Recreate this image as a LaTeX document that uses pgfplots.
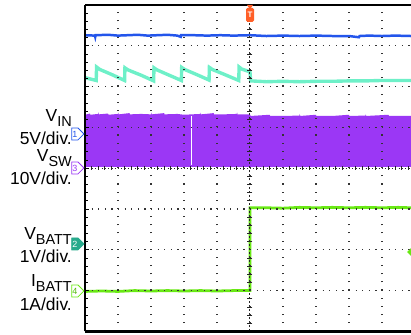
\documentclass[border=0pt]{standalone}
\usepackage{pgfplots}
\pgfplotsset{compat=1.18}
\usepackage{fontspec}
\setmainfont{Liberation Sans}
\usetikzlibrary{shapes.symbols}
\definecolor{cblue}{RGB}{35,85,235}
\definecolor{cteal}{RGB}{110,240,200}
\definecolor{cteald}{RGB}{40,170,140}
\definecolor{cpurple}{RGB}{155,55,245}
\definecolor{cgreen}{RGB}{105,232,20}
\definecolor{corange}{RGB}{255,95,40}
\newcommand\sub[1]{\raisebox{-5bp}{\fontsize{14.5}{14}\selectfont #1}}
\begin{document}
\begin{tikzpicture}
\begin{axis}[at={(0,0)}, anchor=south west,
  width=326bp, height=326.4bp, scale only axis,
  xmin=0, xmax=9.88, ymin=0, ymax=8,
  axis x line*=box, axis y line*=left,
  axis line style={line width=2.4pt, black},
  xtick={0,...,9}, ytick={0,...,8},
  xticklabels={}, yticklabels={},
  minor y tick num=4, tick align=inside,
  xtick style={draw=none},
  ytick style={line width=0.8pt, black},
  major tick length=4bp, minor tick length=2.5bp,
  grid=major,
  x grid style={black!80, line width=1.1pt, dash pattern=on 1.1bp off 7.06bp},
  y grid style={black!80, line width=1.1pt, dash pattern=on 1.1bp off 5.5bp},
  axis on top, clip=true]
% VSW band
\addplot[fill=cpurple, draw=none] coordinates {
 (0,4.03) (0,5.31) (0.15,5.34) (0.16,5.31) (0.4,5.33) (0.41,5.37) (0.42,5.32) (0.7,5.34) (0.71,5.31)
 (1.0,5.33) (1.01,5.36) (1.02,5.32) (1.35,5.35) (1.36,5.32)
 (1.7,5.33) (2.0,5.32) (2.01,5.37) (2.02,5.32) (2.4,5.35) (2.41,5.32) (2.8,5.33) (3.0,5.31) (3.5,5.33) (3.51,5.36)
 (3.52,5.32) (3.9,5.35) (3.91,5.32) (4.2,5.32) (4.6,5.33) (4.61,5.37) (4.62,5.32) (5.0,5.32) (5.02,5.28) (5.6,5.31) (5.61,5.28) (6,5.28)
 (6.5,5.29) (6.51,5.33) (6.52,5.28) (7.0,5.31) (7.01,5.28) (7.5,5.28) (8.0,5.31) (8.01,5.28) (8.5,5.29) (8.51,5.32) (8.52,5.28)
 (9.2,5.31) (9.21,5.28) (9.88,5.28)
 (9.88,4.03)} -- cycle;
\addplot[white, line width=1pt] coordinates {(3.23,4.08) (3.23,5.28)};
% VIN
\addplot[cblue, line width=2.5pt] coordinates {
 (0,7.26) (0.3,7.25) (0.31,7.22) (0.32,7.26) (0.7,7.27) (1.0,7.25) (1.3,7.26) (1.6,7.27)
 (1.9,7.25) (2.2,7.26) (2.5,7.27) (2.8,7.25) (2.9,7.22) (2.91,7.26) (3.3,7.26) (3.7,7.25)
 (4.1,7.26) (4.5,7.25) (5.0,7.26) (5.5,7.24) (6.0,7.25) (6.5,7.24) (7.0,7.25) (7.5,7.24)
 (8.0,7.24) (8.3,7.21) (8.32,7.24) (8.6,7.25) (9.0,7.24) (9.4,7.25) (9.88,7.24)};
% teal trace
\addplot[cteal, line width=3.4pt] coordinates {
 (0,6.22) (0.34,6.15) (0.35,6.48) (0.45,6.42) (0.8,6.3) (1.2,6.15) (1.21,6.46) (1.3,6.41)
 (1.7,6.28) (2.08,6.14) (2.09,6.46) (2.18,6.41) (2.55,6.28) (2.92,6.15) (2.93,6.47) (3.02,6.42)
 (3.4,6.29) (3.76,6.16) (3.77,6.47) (3.86,6.42) (4.25,6.29) (4.66,6.15) (4.67,6.48) (4.75,6.43)
 (4.97,6.37) (5.0,6.36) (5.02,6.14) (5.5,6.12) (6,6.13) (6.5,6.12) (7,6.13) (7.5,6.13)
 (8,6.14) (8.5,6.14) (9,6.15) (9.5,6.15) (9.88,6.15)};
% IBATT
\addplot[cgreen, line width=2.8pt] coordinates {
 (0,0.98) (0.5,0.99) (1,0.98) (1.5,1.0) (2,0.99) (2.5,1.0) (3,0.99) (3.5,1.0) (4,0.99)
 (4.5,1.0) (5.0,1.0) (5.0,3.03) (5.5,3.03) (6,3.02) (6.5,3.04) (7,3.03) (7.5,3.04) (8,3.03)
 (8.5,3.04) (9,3.03) (9.5,3.04) (9.88,3.03)};
% centre lines
\addplot[black!85, line width=1pt, dash pattern=on 2bp off 2.08bp] coordinates {(5,0) (5,8)};
\addplot[only marks, mark=-, mark size=2.5bp, black!85, mark options={line width=0.8pt}] coordinates {
 (5,0.2) (5,0.4) (5,0.6) (5,0.8) (5,1.2) (5,1.4) (5,1.6) (5,1.8) (5,2.2) (5,2.4) (5,2.6) (5,2.8)
 (5,3.2) (5,3.4) (5,3.6) (5,3.8) (5,4.2) (5,4.4) (5,4.6) (5,4.8) (5,5.2) (5,5.4) (5,5.6) (5,5.8)
 (5,6.2) (5,6.4) (5,6.6) (5,6.8) (5,7.2) (5,7.4) (5,7.6) (5,7.8)};
\addplot[black!85, line width=1pt, dash pattern=on 1.1bp off 2.2bp] coordinates {(0,4) (9.88,4)};
\addplot[only marks, mark=|, mark size=2bp, black!85, mark options={line width=0.8pt}] coordinates {
 (0.2,4) (0.4,4) (0.6,4) (0.8,4) (1.2,4) (1.4,4) (1.6,4) (1.8,4) (2.2,4) (2.4,4) (2.6,4) (2.8,4)
 (3.2,4) (3.4,4) (3.6,4) (3.8,4) (4.2,4) (4.4,4) (4.6,4) (4.8,4) (5.2,4) (5.4,4) (5.6,4) (5.8,4)
 (6.2,4) (6.4,4) (6.6,4) (6.8,4) (7.2,4) (7.4,4) (7.6,4) (7.8,4) (8.2,4) (8.4,4) (8.6,4) (8.8,4)
 (9.2,4) (9.4,4) (9.6,4) (9.8,4)};
\end{axis}
% trigger marker
\fill[corange] (162bp,326.4bp) -- (168bp,326.4bp) -- (165bp,322bp) -- cycle;
\node[fill=corange, rounded corners=1.5bp, minimum width=8bp, minimum height=14bp, inner sep=0pt,
  text=white, font=\fontsize{8}{8}\selectfont\bfseries] at (165bp,316.4bp) {T};
% right marker
\fill[cgreen] (327bp,74.4bp) -- (322bp,79.4bp) -- (327bp,84.4bp) -- cycle;
% channel markers
\tikzset{chm/.style={signal, signal to=east, fill=white, line width=0.8pt, inner sep=0.6bp,
  minimum height=12bp, minimum width=10bp, font=\fontsize{9}{9}\selectfont, anchor=east}}
\node[chm, draw=cblue, text=cblue] at (-0.5bp,197.4bp) {1};
\node[chm, draw=cpurple, text=cpurple] at (-0.5bp,163.4bp) {3};
\node[chm, draw=cteald, fill=cteald, text=white] at (-0.5bp,87.4bp) {2};
\node[chm, draw=cgreen, text=cgreen!80!black] at (-0.5bp,40.4bp) {4};
% labels
\tikzset{lab/.style={anchor=base east, inner sep=0pt, font=\fontsize{17.5}{20}\selectfont}}
\node[lab] at (-13bp,209.4bp) {V\sub{IN}};
\node[lab] at (-13bp,186.4bp) {5V/div.};
\node[lab] at (-13bp,169.4bp) {V\sub{SW}};
\node[lab] at (-13bp,146.4bp) {10V/div.};
\node[lab] at (-13bp,91.4bp) {V\sub{BATT}};
\node[lab] at (-13bp,68.4bp) {1V/div.};
\node[lab] at (-13bp,44.4bp) {I\sub{BATT}};
\node[lab] at (-13bp,21.4bp) {1A/div.};
\pgfresetboundingbox
\useasboundingbox (-85bp,-3.6bp) rectangle (326bp,331.4bp);
\end{tikzpicture}
\end{document}
